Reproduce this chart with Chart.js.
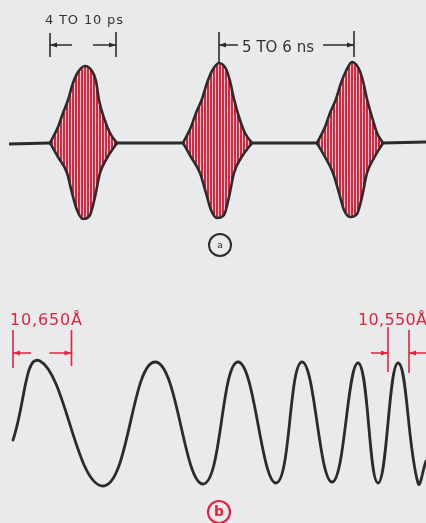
<!DOCTYPE html>
<html><head><meta charset="utf-8">
<script src="https://cdn.jsdelivr.net/npm/chart.js@4.4.1/dist/chart.umd.min.js"></script>
<style>
html,body{margin:0;padding:0;background:#e8eaec;width:426px;height:523px;overflow:hidden}
.p{position:absolute;left:0;width:426px}
#pa{top:0;height:262px}
#pb{top:262px;height:261px}
</style></head><body>
<div class="p" id="pa"><canvas id="ca"></canvas></div>
<div class="p" id="pb"><canvas id="cb"></canvas></div>
<script>
// ===== data =====
const panelLabels = ['a', 'b'];
const spanLabelsA = ['4 TO 10 ps', '5 TO 6 ns'];
const spanLabelsB = ['10,650Å', '10,550Å'];

// (a) pulse train: [time position, field envelope] (baseline = 0)
const baselineA = [[9,-1],[50,0],[84,null],[117,0],[183,0],[218,null],[252,0],[317,0],[350,null],[383,0],[426,1]];
const pulse1Upper = [[50,0],[58,16],[63,30],[68,43],[73,60],[78,71],[85,77],[92,72],[96,62],[99,43],[104,25],[110,10],[117,0]];
const pulse1Lower = [[50,0],[58,-14],[67,-30],[72,-50],[77,-67],[83,-76],[90,-72],[95,-54],[100,-30],[107,-15],[117,0]];
const pulse2Upper = [[183,0],[191,16],[196,30],[202,44],[207,60],[212,72],[219,80],[226,74],[230,62],[234,44],[239,26],[245,10],[252,0]];
const pulse2Lower = [[183,0],[191,-14],[200,-30],[206,-50],[211,-67],[217,-75],[224,-72],[229,-54],[234,-30],[241,-15],[252,0]];
const pulse3Upper = [[317,0],[325,16],[330,30],[336,44],[341,60],[346,72],[352,81],[359,74],[363,62],[367,44],[372,26],[377,10],[383,0]];
const pulse3Lower = [[317,0],[325,-14],[333,-30],[339,-50],[344,-67],[350,-74],[357,-71],[362,-54],[367,-30],[374,-15],[383,0]];

// (b) chirped wave: start, successive crests/troughs, end  [position, amplitude]
const waveB = [
  [13,-17],[40,62],[103,-63],[155,61],[203,-61],[238,61],[276,-60],
  [302,61],[332,-59],[358,60],[378,-60],[398,60],[418,-60],[426,-38]
];

// ===== helpers =====
const INK = '#2b2b2b', RED = '#e3233b';
const toXY = a => a.map(p => ({x: p[0], y: p[1]}));

function makeHatch() {
  const c = document.createElement('canvas'); c.width = 3; c.height = 1;
  const g = c.getContext('2d');
  g.fillStyle = '#f3cfd3'; g.fillRect(0, 0, 3, 1);
  g.fillStyle = '#e2213a'; g.fillRect(0, 0, 2, 1);
  return document.getElementById('ca').getContext('2d').createPattern(c, 'repeat');
}
function arrow(ctx, x1, y, x2, color) {
  ctx.strokeStyle = color; ctx.fillStyle = color; ctx.lineWidth = 1.5;
  ctx.beginPath(); ctx.moveTo(x1, y); ctx.lineTo(x2, y); ctx.stroke();
  const d = Math.sign(x2 - x1);
  ctx.beginPath(); ctx.moveTo(x2, y); ctx.lineTo(x2 - d * 7, y - 2.5); ctx.lineTo(x2 - d * 7, y + 2.5); ctx.closePath(); ctx.fill();
}
function vline(ctx, x, y1, y2, color, w) {
  ctx.strokeStyle = color; ctx.lineWidth = w || 1.6;
  ctx.beginPath(); ctx.moveTo(x, y1); ctx.lineTo(x, y2); ctx.stroke();
}
function fitText(ctx, text, left, right, base, font, color) {
  ctx.font = font; ctx.fillStyle = color; ctx.textAlign = 'left'; ctx.textBaseline = 'alphabetic';
  ctx.letterSpacing = '0px';
  const w = ctx.measureText(text).width;
  const ls = (right - left - w) / Math.max(1, text.length - 1);
  ctx.letterSpacing = ls.toFixed(2) + 'px';
  ctx.fillText(text, left, base);
  ctx.letterSpacing = '0px';
}
function circleLabel(ctx, cx, cy, r, text, font, color, lw) {
  ctx.strokeStyle = color; ctx.lineWidth = lw;
  ctx.beginPath(); ctx.arc(cx, cy, r, 0, Math.PI * 2); ctx.stroke();
  ctx.font = font; ctx.fillStyle = color; ctx.textAlign = 'center'; ctx.textBaseline = 'middle';
  ctx.fillText(text, cx, cy + 0.5);
}

const hidden = {type: 'linear', display: false};
const baseOpts = (ymin, ymax) => ({
  responsive: true, maintainAspectRatio: false, animation: false, devicePixelRatio: 1,
  layout: {padding: 0},
  scales: {x: {...hidden, min: 0, max: 426}, y: {...hidden, min: ymin, max: ymax}},
  plugins: {legend: {display: false}, tooltip: {enabled: false}, filler: {drawTime: 'beforeDatasetsDraw'}},
  elements: {point: {radius: 0}, line: {cubicInterpolationMode: 'monotone', capBezierPoints: true}}
});

const FONT = '"DejaVu Sans", Verdana, sans-serif';

// ===== panel (a) =====
const hatch = makeHatch();
const env = (d) => ({data: toXY(d), borderColor: INK, borderWidth: 2.6, fill: 'origin', backgroundColor: hatch, borderCapStyle: 'round', borderJoinStyle: 'round'});

const annA = {
  id: 'annA',
  afterDatasetsDraw(chart) {
    const {ctx, scales: {x, y}} = chart;
    const X = v => x.getPixelForValue(v), Y = v => y.getPixelForValue(v);
    ctx.save();
    // pulse width span
    const s1 = X(pulse1Upper[0][0]), e1 = X(pulse1Upper[pulse1Upper.length - 1][0]) - 1;
    vline(ctx, s1, Y(110), Y(86), INK);
    vline(ctx, e1, Y(111), Y(86), INK);
    arrow(ctx, s1 + 22, Y(98), s1, INK);
    arrow(ctx, e1 - 23, Y(98), e1, INK);
    fitText(ctx, spanLabelsA[0], X(45), X(123), Y(119), '13px ' + FONT, '#333');
    // pulse period span (peak to peak)
    const pk = a => a.reduce((m, p) => p[1] > m[1] ? p : m)[0];
    const s2 = X(pk(pulse2Upper)), e2 = X(pk(pulse3Upper)) + 2;
    vline(ctx, s2, Y(111), Y(81), INK);
    vline(ctx, e2, Y(112), Y(86), INK);
    arrow(ctx, s2 + 19, Y(98), s2, INK);
    arrow(ctx, e2 - 31, Y(98), e2, INK);
    fitText(ctx, spanLabelsA[1], X(242), X(314), Y(91), '15px ' + FONT, '#333');
    circleLabel(ctx, X(220), Y(-102), 11, panelLabels[0], '9px ' + FONT, INK, 2);
    ctx.restore();
  }
};

new Chart(document.getElementById('ca'), {
  type: 'line',
  data: {datasets: [
    env(pulse1Upper), env(pulse1Lower), env(pulse2Upper), env(pulse2Lower), env(pulse3Upper), env(pulse3Lower),
    {data: toXY(baselineA), borderColor: INK, borderWidth: 3, fill: false, tension: 0, cubicInterpolationMode: 'default', spanGaps: false}
  ]},
  options: baseOpts(143 - 262, 143),
  plugins: [annA]
});

// ===== panel (b) =====
const annB = {
  id: 'annB',
  afterDatasetsDraw(chart) {
    const {ctx, scales: {x, y}} = chart;
    const X = v => x.getPixelForValue(v), Y = v => y.getPixelForValue(v);
    const n = waveB.length;
    const mid = (i) => X((waveB[i][0] + waveB[i + 1][0]) / 2);
    ctx.save();
    // long wavelength span (left): start of trace to first crossing
    const l1 = X(waveB[0][0]), l2 = mid(1);
    vline(ctx, l1, Y(93), Y(55), RED);
    vline(ctx, l2, Y(93), Y(57), RED);
    arrow(ctx, l1 + 18, Y(70), l1, RED);
    arrow(ctx, l2 - 22, Y(70), l2, RED);
    fitText(ctx, spanLabelsB[0], X(10), X(82), Y(98), '16px ' + FONT, RED);
    // short wavelength span (right): crossings either side of the last crest
    const r1 = mid(n - 4), r2 = mid(n - 3) + 1;
    vline(ctx, r1, Y(96), Y(51), RED);
    vline(ctx, r2, Y(93), Y(50), RED);
    arrow(ctx, r1 - 17, Y(70), r1, RED);
    arrow(ctx, r2 + 18, Y(70), r2, RED);
    fitText(ctx, spanLabelsB[1], X(358), X(427), Y(98), '16px ' + FONT, RED);
    circleLabel(ctx, X(219), Y(-89), 11, panelLabels[1], 'bold 14px ' + FONT, RED, 2.2);
    ctx.restore();
  }
};

new Chart(document.getElementById('cb'), {
  type: 'line',
  data: {datasets: [
    {data: toXY(waveB), borderColor: INK, borderWidth: 2.8, fill: false, borderCapStyle: 'round', borderJoinStyle: 'round',
     cubicInterpolationMode: 'default', tension: 0.45}
  ]},
  options: baseOpts(423 - 523, 423 - 262),
  plugins: [annB]
});
</script>
</body></html>
